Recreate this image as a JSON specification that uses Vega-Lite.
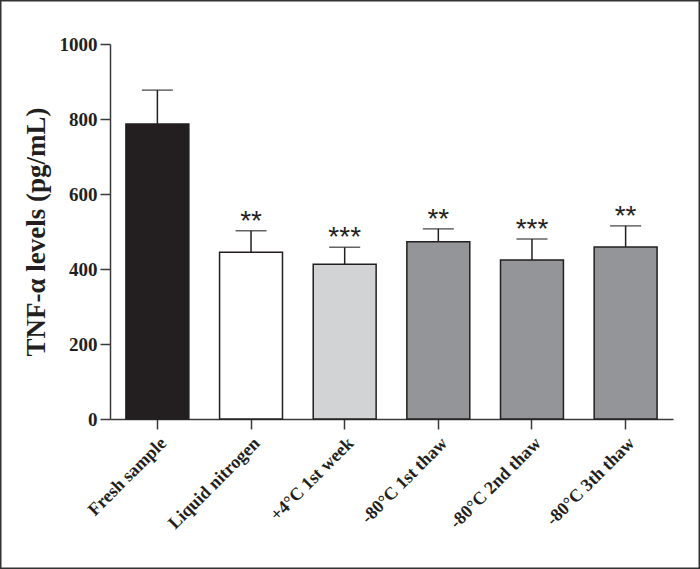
{
  "$schema": "https://vega.github.io/schema/vega-lite/v6.json",
  "width": 700,
  "height": 569,
  "padding": 0,
  "autosize": {"type": "none"},
  "background": "white",
  "config": {
    "view": {"stroke": "#333333", "strokeWidth": 3},
    "axis": {
      "labelFont": "Liberation Serif",
      "titleFont": "Liberation Serif",
      "labelFontWeight": "bold",
      "titleFontWeight": "bold",
      "labelColor": "#231f20",
      "titleColor": "#231f20",
      "domainColor": "#3a3a3a",
      "tickColor": "#3a3a3a",
      "domainWidth": 1.5,
      "tickWidth": 1.5,
      "grid": false
    }
  },
  "data": {
    "values": [
      {"group": "Fresh sample", "mean": 787, "upper": 877, "sig": ""},
      {"group": "Liquid nitrogen", "mean": 445, "upper": 502, "sig": "**"},
      {"group": "+4°C 1st week", "mean": 413, "upper": 458, "sig": "***"},
      {"group": "-80°C 1st thaw", "mean": 473, "upper": 507, "sig": "**"},
      {"group": "-80°C 2nd thaw", "mean": 424, "upper": 480, "sig": "***"},
      {"group": "-80°C 3th thaw", "mean": 459, "upper": 515, "sig": "**"}
    ]
  },
  "encoding": {
    "x": {
      "field": "group",
      "type": "nominal",
      "sort": null,
      "scale": {"range": [110, 673], "paddingInner": 0.328, "paddingOuter": 0.17},
      "axis": {
        "title": null,
        "labelAngle": -45,
        "labelFontSize": 18,
        "tickSize": 10,
        "labelPadding": 5,
        "offset": -150
      }
    }
  },
  "layer": [
    {
      "mark": {"type": "rule", "stroke": "#231f20", "strokeWidth": 1.5},
      "encoding": {
        "y": {"field": "mean", "type": "quantitative"},
        "y2": {"field": "upper"}
      }
    },
    {
      "mark": {"type": "tick", "color": "#231f20", "size": 31, "thickness": 1.5},
      "encoding": {
        "y": {"field": "upper", "type": "quantitative"}
      }
    },
    {
      "mark": {"type": "bar", "stroke": "#231f20", "strokeWidth": 1.5},
      "encoding": {
        "y": {
          "field": "mean",
          "type": "quantitative",
          "scale": {"domain": [0, 1000], "range": [419, 44], "nice": false},
          "axis": {
            "title": "TNF-α levels (pg/mL)",
            "titleFontSize": 27,
            "labelFontSize": 19,
            "format": "d",
            "values": [0, 200, 400, 600, 800, 1000],
            "tickSize": 10,
            "labelPadding": 3,
            "titlePadding": 9,
            "offset": -110
          }
        },
        "fill": {
          "field": "group",
          "type": "nominal",
          "sort": null,
          "scale": {
            "domain": ["Fresh sample", "Liquid nitrogen", "+4°C 1st week", "-80°C 1st thaw", "-80°C 2nd thaw", "-80°C 3th thaw"],
            "range": ["#231f20", "#ffffff", "#d1d3d4", "#939598", "#939598", "#939598"]
          },
          "legend": null
        }
      }
    },
    {
      "mark": {"type": "text", "font": "Liberation Sans", "fontSize": 28, "color": "#231f20", "baseline": "alphabetic", "dy": -1},
      "encoding": {
        "y": {"field": "upper", "type": "quantitative"},
        "text": {"field": "sig"}
      }
    }
  ]
}
